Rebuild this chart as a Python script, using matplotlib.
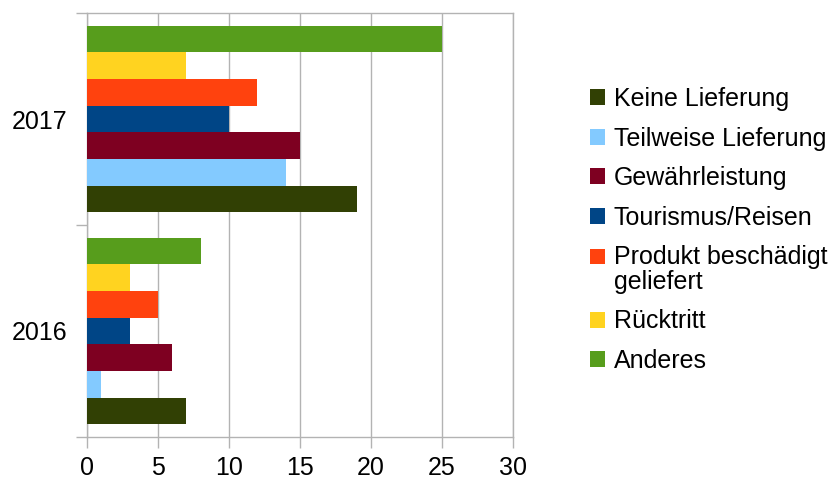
import numpy as np
import matplotlib
matplotlib.use("Agg")
import matplotlib.pyplot as plt
from matplotlib.patches import Rectangle
from matplotlib.legend_handler import HandlerPatch

plt.rcParams['font.family'] = ['Liberation Sans', 'DejaVu Sans']

years = ['2016', '2017']
series = ['Keine Lieferung', 'Teilweise Lieferung', 'Gewährleistung',
          'Tourismus/Reisen', 'Produkt beschädigt\ngeliefert', 'Rücktritt',
          'Anderes']
keine = [7, 19]
teilweise = [1, 14]
gewaehr = [6, 15]
tourismus = [3, 10]
produkt = [5, 12]
ruecktritt = [3, 7]
anderes = [8, 25]
values = [keine, teilweise, gewaehr, tourismus, produkt, ruecktritt, anderes]
colors = ['#314004', '#83CAFF', '#7E0021', '#004586', '#FF420E', '#FFD320',
          '#579D1C']
xticks = [0, 5, 10, 15, 20, 25, 30]

fig = plt.figure(figsize=(8.4, 4.84), dpi=100)
ax = fig.add_axes([87 / 840, 1 - 437 / 484, 426 / 840, 424 / 484])

grey = '#b3b3b3'
n = len(series)
group = 0.882
h = group / n
centers = np.arange(len(years)) + 0.5
bars = []
for i, (name, vals, c) in enumerate(zip(series, values, colors)):
    y = centers - group / 2 + h * (i + 0.5)
    bars.append(ax.barh(y, vals, height=h, color=c, label=name, zorder=3))

ax.set_xlim(0, 30)
ax.set_ylim(0, 2)
ax.set_xticks(xticks)
ax.xaxis.grid(True, color=grey, linewidth=1, zorder=0)
ax.set_yticks([0, 1, 2])
ax.set_yticklabels([])
ax.set_yticks(centers, minor=True)
ax.set_yticklabels(years, minor=True)
ax.tick_params(axis='y', which='major', length=8, color=grey, width=1)
ax.tick_params(axis='y', which='minor', length=0, pad=14, labelsize=18)
ax.tick_params(axis='x', length=8, color=grey, width=1, pad=6, labelsize=18)
for s in ax.spines.values():
    s.set_color(grey)
    s.set_linewidth(1)


# square beside the first line of a two-line label
def top_square(legend, orig_handle, xdescent, ydescent, width, height, fontsize):
    return Rectangle((-xdescent, -ydescent + 0.55 * fontsize), width, height)


handles = [b[0] for b in bars]
leg = fig.legend(handles, series, loc='center left',
                 bbox_to_anchor=(580 / 840, 1 - 230 / 484), frameon=False,
                 fontsize=18, handlelength=0.6, handleheight=0.6,
                 handletextpad=0.35, labelspacing=0.62, borderaxespad=0,
                 handler_map={handles[4]: HandlerPatch(patch_func=top_square)})
for t in leg.get_texts():
    t.set_linespacing(1.05)

fig.savefig('out.png', dpi=100)
